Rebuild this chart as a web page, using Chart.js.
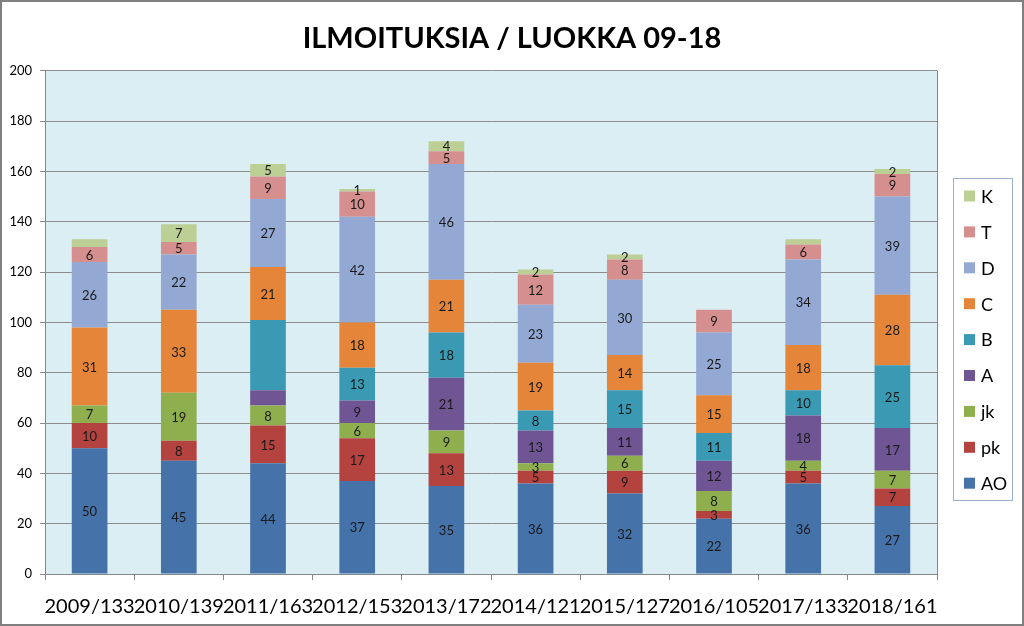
<!DOCTYPE html>
<html><head><meta charset="utf-8">
<script src="https://cdn.jsdelivr.net/npm/chart.js@4/dist/chart.umd.min.js"></script>
<style>html,body{margin:0;padding:0;background:#fff}#wrap{width:1024px;height:626px}</style>
</head><body><div id="wrap"><canvas id="c" width="1024" height="626"></canvas></div>
<script>
const categories = ['2009/133','2010/139','2011/163','2012/153','2013/172','2014/121','2015/127','2016/105','2017/133','2018/161'];
const AO = [50,45,44,37,35,36,32,22,36,27];
const pk = [10,8,15,17,13,5,9,3,5,7];
const jk = [7,19,8,6,9,3,6,8,4,7];
const A  = [0,0,6,9,21,13,11,12,18,17];
const B  = [0,0,28,13,18,8,15,11,10,25];
const C  = [31,33,21,18,21,19,14,15,18,28];
const D  = [26,22,27,42,46,23,30,25,34,39];
const T  = [6,5,9,10,5,12,8,9,6,9];
const K  = [3,7,5,1,4,2,2,0,2,2];
const seriesNames = ['AO','pk','jk','A','B','C','D','T','K'];
const seriesColors = ['#4672AA','#B4433F','#8FAF4E','#6F5593','#3B9AB3','#E5853A','#93A9D4','#D48F8E','#BCCF95'];
const yMin = 0, yMax = 200, yStep = 20;
const titleText = 'ILMOITUKSIA / LUOKKA 09-18';
// segments whose value label is not shown in the original: series -> category indexes
const unlabeled = {K:[0,8], A:[2], B:[2]};

const seriesData = [AO,pk,jk,A,B,C,D,T,K];
const FONT = 'Lato, "Open Sans", sans-serif';

const datasets = seriesNames.map((n,i)=>({
  label:n, data:seriesData[i], backgroundColor:seriesColors[i],
  borderWidth:0, categoryPercentage:1.0, barPercentage:0.4, yAxisID:'y'
}));

const bgPlugin = {
  id:'bg',
  beforeDraw(chart){
    const {ctx, chartArea:a} = chart;
    ctx.save();
    ctx.fillStyle='#fff'; ctx.fillRect(0,0,chart.width,chart.height);
    ctx.fillStyle='#DBEEF4'; ctx.fillRect(a.left,a.top,a.right-a.left,a.bottom-a.top);
    ctx.restore();
  },
  afterDraw(chart){
    const {ctx, chartArea:a} = chart;
    ctx.save();
    ctx.strokeStyle='#868686'; ctx.lineWidth=1;
    ctx.beginPath(); ctx.moveTo(a.right+0.5,a.top); ctx.lineTo(a.right+0.5,a.bottom); ctx.stroke();
    ctx.strokeStyle='#7f7f7f'; ctx.lineWidth=2;
    ctx.strokeRect(1,1,chart.width-2,chart.height-2);
    // legend
    const lx=953, ly=178, lw=59, lh=322;
    ctx.strokeStyle='#9AAFC9'; ctx.lineWidth=1;
    ctx.strokeRect(lx+0.5,ly+0.5,lw,lh);
    ctx.font='18px '+FONT; ctx.textBaseline='middle'; ctx.textAlign='left';
    const order = seriesNames.map((n,i)=>i).reverse();
    order.forEach((si,k)=>{
      const cy = 196 + k*35.9;
      ctx.fillStyle=seriesColors[si];
      ctx.fillRect(964,cy-5.5,11,11);
      ctx.fillStyle='#000';
      ctx.fillText(seriesNames[si],981,cy+1);
    });
    ctx.restore();
  },
  afterDatasetsDraw(chart){
    const {ctx} = chart;
    ctx.save();
    ctx.font='13px '+FONT; ctx.fillStyle='#1a1a1a';
    ctx.textAlign='center'; ctx.textBaseline='middle';
    chart.data.datasets.forEach((ds,di)=>{
      const meta = chart.getDatasetMeta(di);
      const skip = unlabeled[ds.label]||[];
      meta.data.forEach((el,j)=>{
        const v = ds.data[j];
        if(!v || skip.includes(j)) return;
        ctx.fillText(String(v), el.x, (el.y+el.base)/2+1);
      });
    });
    ctx.restore();
  }
};

new Chart(document.getElementById('c'),{
  type:'bar',
  data:{labels:categories, datasets},
  options:{
    responsive:false, animation:false, devicePixelRatio:1,
    layout:{padding:0},
    plugins:{
      legend:{display:false},
      tooltip:{enabled:false},
      title:{display:true,text:titleText,color:'#000',font:{family:FONT,size:29,weight:'bold'},padding:{top:21,bottom:15}}
    },
    scales:{
      x:{stacked:true, offset:true,
        grid:{offset:true,drawOnChartArea:false,drawTicks:true,tickLength:6,color:'#868686'},
        border:{color:'#868686'},
        ticks:{font:{family:FONT,size:20},color:'#000',padding:15,maxRotation:0,autoSkip:false},
        afterFit(s){s.height=52;}
      },
      y:{stacked:true, min:yMin, max:yMax, position:'left',
        grid:{color:'#8C8C8C',tickLength:5},
        border:{color:'#868686'},
        ticks:{stepSize:yStep,font:{family:FONT,size:13},color:'#000',padding:8},
        afterFit(s){s.width=45;}
      },
      yr:{position:'right', min:yMin, max:yMax, display:true,
        grid:{display:false,drawTicks:false}, border:{display:false},
        ticks:{display:false},
        afterFit(s){s.width=87;}
      }
    }
  },
  plugins:[bgPlugin]
});
</script></body></html>
